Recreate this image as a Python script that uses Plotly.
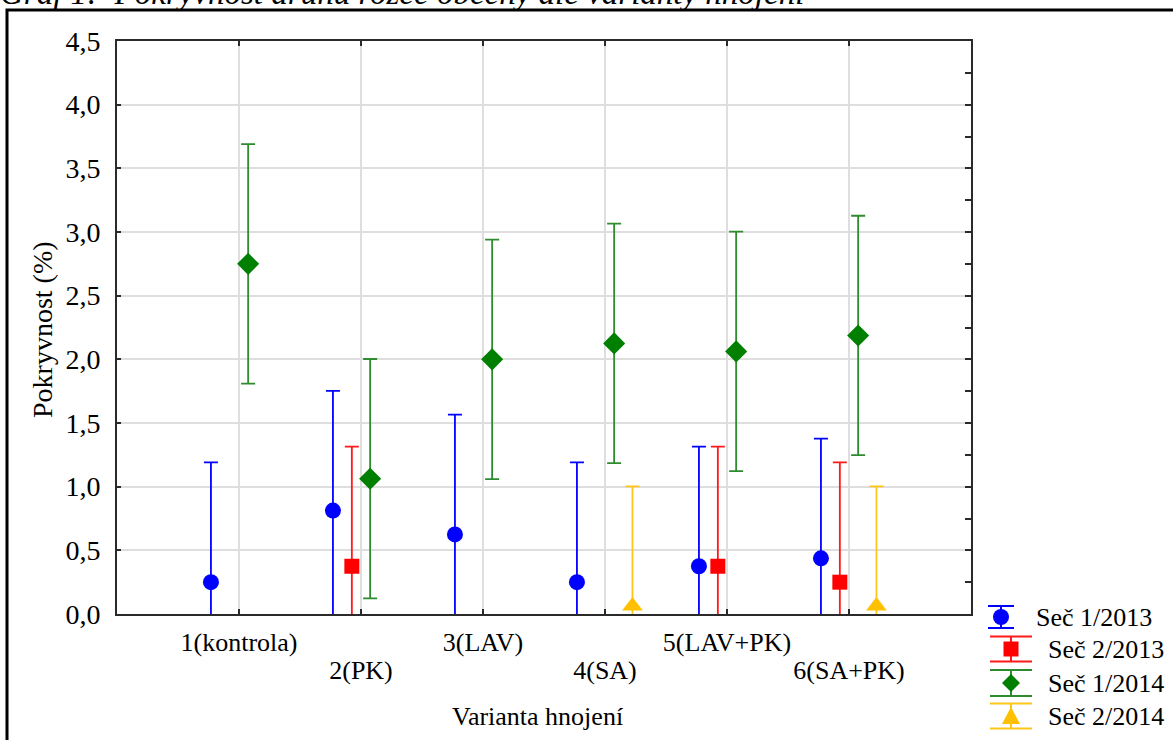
import plotly.graph_objects as go

# ---------------- data ----------------
categories = ["1(kontrola)", "2(PK)", "3(LAV)", "4(SA)", "5(LAV+PK)", "6(SA+PK)"]
series_names = ["Seč 1/2013", "Seč 2/2013", "Seč 1/2014", "Seč 2/2014"]

sec1_2013 = [0.25, 0.8125, 0.625, 0.25, 0.375, 0.4375]
sec1_2013_err = [0.94, 0.94, 0.94, 0.94, 0.94, 0.94]

sec2_2013 = [None, 0.375, None, None, 0.375, 0.25]
sec2_2013_err = [None, 0.94, None, None, 0.94, 0.94]

sec1_2014 = [2.75, 1.0625, 2.0, 2.125, 2.0625, 2.1875]
sec1_2014_err = [0.94, 0.94, 0.94, 0.94, 0.94, 0.94]

sec2_2014 = [None, None, None, 0.0625, None, 0.0625]
sec2_2014_err = [None, None, None, 0.94, None, 0.94]

y_ticks = [0.0, 0.5, 1.0, 1.5, 2.0, 2.5, 3.0, 3.5, 4.0, 4.5]

# ---------------- style ----------------
W, H = 1173, 740
FONT = "Liberation Serif"
AX = "#2a2a2a"
GRID = "#dedede"


def fx(p):
    return p / W


def fy(p):
    return 1 - p / H


PLOT_L, PLOT_R, PLOT_T, PLOT_B = 117, 971, 41, 614

offsets = [-0.23, -0.075, 0.075, 0.225]
marker_styles = [
    dict(symbol="circle", size=16, color="#0000ff"),
    dict(symbol="square", size=15, color="#ff0000"),
    dict(symbol="diamond", size=17, color="#007f00"),
    dict(symbol="triangle-up", size=18, color="#ffc000"),
]
bar_colors = ["#0000ff", "#ff1a1a", "#2e8b2e", "#ffc61a"]

values = [sec1_2013, sec2_2013, sec1_2014, sec2_2014]
errors = [sec1_2013_err, sec2_2013_err, sec1_2014_err, sec2_2014_err]

fig = go.Figure()
for k in range(4):
    xs = [i + 1 + offsets[k] for i in range(len(categories))]
    fig.add_trace(go.Scatter(
        x=xs, y=values[k], mode="markers", name=series_names[k],
        marker=dict(line=dict(width=0), **marker_styles[k]),
        error_y=dict(type="data", array=errors[k], visible=True,
                     color=bar_colors[k], thickness=1.8, width=7),
        cliponaxis=True, showlegend=False,
    ))

# invisible helper traces for the overlay axes
fig.add_trace(go.Scatter(x=[None], y=[None], xaxis="x2", yaxis="y",
                         showlegend=False, hoverinfo="skip"))
fig.add_trace(go.Scatter(x=[None], y=[None], xaxis="x", yaxis="y2",
                         showlegend=False, hoverinfo="skip"))

xdom = [fx(PLOT_L), fx(PLOT_R)]
ydom = [fy(PLOT_B), fy(PLOT_T)]
xtickfont = dict(family=FONT, size=26, color="black")
ytickfont = dict(family=FONT, size=28, color="black")

odd_text = [c if i % 2 == 0 else "" for i, c in enumerate(categories)]
even_vals = [i + 1 for i in range(len(categories)) if i % 2 == 1]
even_text = [categories[i] for i in range(len(categories)) if i % 2 == 1]

fig.update_layout(
    width=W, height=H, autosize=False,
    margin=dict(l=0, r=0, t=0, b=0, pad=0, autoexpand=False),
    paper_bgcolor="white", plot_bgcolor="white",
    separators=", ",
    font=dict(family=FONT, size=26, color="black"),
    showlegend=False,
    title=dict(
        text="<i>Graf 1:  Pokryvnost druhu rožec obecný dle varianty hnojení</i>",
        x=0.0, xref="container", xanchor="left",
        y=fy(4), yref="container", yanchor="bottom",
        font=dict(family=FONT, size=33, color="black"),
        pad=dict(t=0, b=0, l=0, r=0),
    ),
    xaxis=dict(
        domain=xdom, range=[0, 7], tickmode="array",
        tickvals=[i + 1 for i in range(len(categories))], ticktext=odd_text,
        ticks="inside", ticklen=5, tickwidth=2, tickcolor=AX,
        showline=True, linewidth=2, linecolor=AX, mirror="ticks",
        showgrid=True, gridcolor=GRID, gridwidth=2, zeroline=False,
        tickfont=xtickfont, ticklabelstandoff=4, anchor="y", fixedrange=True,
        automargin=False,
    ),
    xaxis2=dict(
        overlaying="x", anchor="y", side="bottom", range=[0, 7],
        tickmode="array", tickvals=even_vals, ticktext=even_text,
        ticks="", showline=False, showgrid=False, zeroline=False,
        tickfont=xtickfont, ticklabelstandoff=38, automargin=False,
    ),
    yaxis=dict(
        domain=ydom, range=[0, 4.5], tickmode="array", tickvals=y_ticks,
        tickformat=".1f",
        ticks="inside", ticklen=4, tickwidth=2, tickcolor=AX,
        showline=True, linewidth=2, linecolor=AX, mirror=False,
        showgrid=True, gridcolor=GRID, gridwidth=2, zeroline=False,
        tickfont=ytickfont, ticklabelstandoff=9, anchor="x", fixedrange=True,
        automargin=False,
    ),
    yaxis2=dict(
        overlaying="y", anchor="x", side="right", range=[0, 4.5],
        dtick=0.25, tick0=0, ticks="inside", ticklen=6, tickwidth=2,
        tickcolor=AX, showticklabels=False, showline=True, linewidth=2,
        linecolor=AX, showgrid=False, zeroline=False, automargin=False,
    ),
)

# axis titles
fig.add_annotation(x=fx(537), y=fy(716), xref="paper", yref="paper",
                   xanchor="center", yanchor="middle",
                   text="Varianta hnojení", showarrow=False,
                   font=dict(family=FONT, size=26, color="black"))
fig.add_annotation(x=fx(42), y=fy(330), xref="paper", yref="paper",
                   xanchor="center", yanchor="middle",
                   text="Pokryvnost (%)", showarrow=False, textangle=-90,
                   font=dict(family=FONT, size=28, color="black"))

# outer frame
fig.add_shape(type="rect", xref="paper", yref="paper",
              x0=fx(7), x1=fx(1185), y0=fy(755), y1=fy(10),
              line=dict(color="black", width=3), fillcolor="rgba(0,0,0,0)")

# ---------------- legend (error-bar glyph + marker + label) ----------------
LEG_CX = [1001, 1011, 1011, 1011]
LEG_CY = [617, 649, 683, 716]
LEG_TEXT_X = [1034, 1046, 1046, 1046]
CAP_HW = [13, 21, 21, 21]
CAP_HH = [11, 12.5, 13, 12.5]


def line(x0, y0, x1, y1, color):
    fig.add_shape(type="line", xref="paper", yref="paper",
                  x0=fx(x0), y0=fy(y0), x1=fx(x1), y1=fy(y1),
                  line=dict(color=color, width=2))


for k in range(4):
    cx, cy = LEG_CX[k], LEG_CY[k]
    hw, hh = CAP_HW[k], CAP_HH[k]
    col = bar_colors[k]
    mcol = marker_styles[k]["color"]
    line(cx - hw, cy - hh, cx + hw, cy - hh, col)
    line(cx - hw, cy + hh, cx + hw, cy + hh, col)
    line(cx, cy - hh, cx, cy + hh, col)
    sym = marker_styles[k]["symbol"]
    if sym == "circle":
        r = 8
        fig.add_shape(type="circle", xref="paper", yref="paper",
                      x0=fx(cx - r), x1=fx(cx + r), y0=fy(cy + r), y1=fy(cy - r),
                      fillcolor=mcol, line=dict(width=0))
    elif sym == "square":
        r = 7.5
        fig.add_shape(type="rect", xref="paper", yref="paper",
                      x0=fx(cx - r), x1=fx(cx + r), y0=fy(cy + r), y1=fy(cy - r),
                      fillcolor=mcol, line=dict(width=0))
    elif sym == "diamond":
        r = 9
        path = (f"M {fx(cx)} {fy(cy - r)} L {fx(cx + r)} {fy(cy)} "
                f"L {fx(cx)} {fy(cy + r)} L {fx(cx - r)} {fy(cy)} Z")
        fig.add_shape(type="path", xref="paper", yref="paper", path=path,
                      fillcolor=mcol, line=dict(width=0))
    else:
        r = 9
        path = (f"M {fx(cx)} {fy(cy - r)} L {fx(cx + r)} {fy(cy + 8)} "
                f"L {fx(cx - r)} {fy(cy + 8)} Z")
        fig.add_shape(type="path", xref="paper", yref="paper", path=path,
                      fillcolor=mcol, line=dict(width=0))
    fig.add_annotation(x=fx(LEG_TEXT_X[k]), y=fy(cy), xref="paper", yref="paper",
                       xanchor="left", yanchor="middle", text=series_names[k],
                       showarrow=False,
                       font=dict(family=FONT, size=26, color="black"))

# remove the browser's default 8px body margin so the figure sits at (0, 0)
fig.write_html("out.html",
               config={"displayModeBar": False},
               post_script="document.body.style.margin='0px';"
                           "document.body.style.overflow='hidden';")
